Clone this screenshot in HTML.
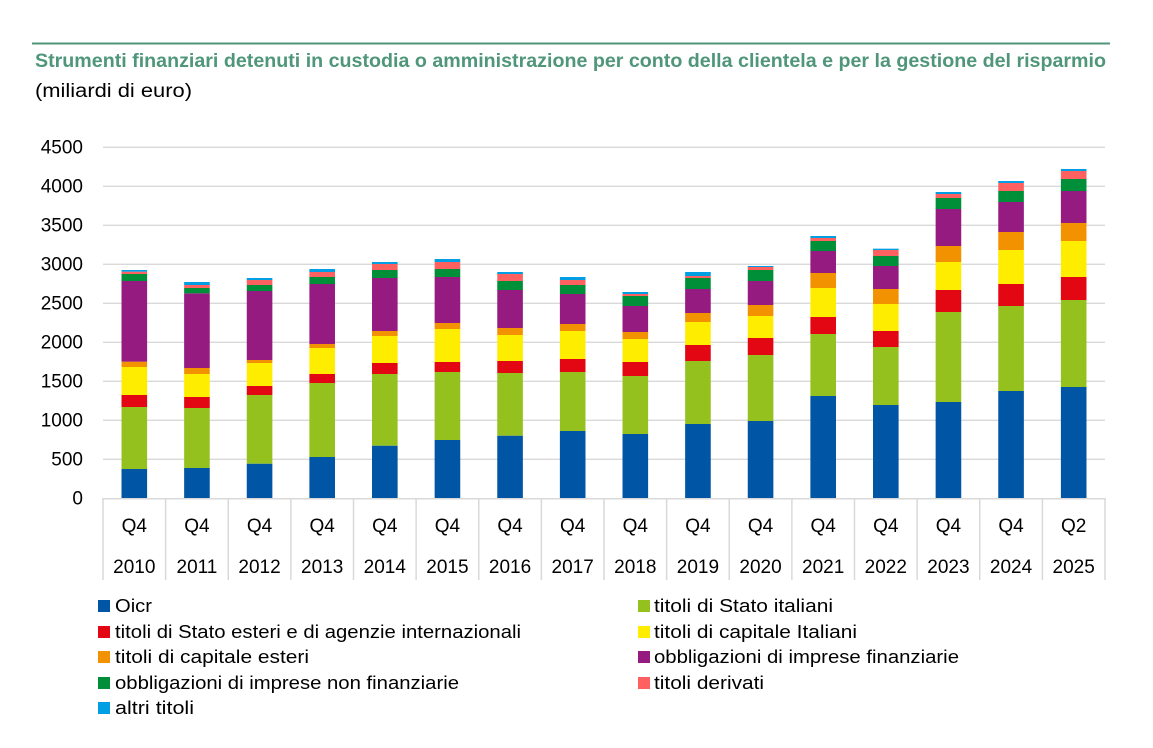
<!DOCTYPE html>
<html><head><meta charset="utf-8"><style>
body{margin:0;background:#fff;}
svg{display:block;font-family:"Liberation Sans",sans-serif;}
</style></head><body>
<svg id="s" width="1153" height="748" xmlns="http://www.w3.org/2000/svg">
<rect width="1153" height="748" fill="#fff"/>
<line x1="32" y1="43.5" x2="1110" y2="43.5" stroke="#4f967a" stroke-width="2"/>
<text x="35" y="67" font-size="19" font-weight="bold" fill="#4f967a" textLength="1071" lengthAdjust="spacingAndGlyphs">Strumenti finanziari detenuti in custodia o amministrazione per conto della clientela e per la gestione del risparmio</text>
<text x="35" y="97" font-size="19" fill="#000" textLength="157" lengthAdjust="spacingAndGlyphs">(miliardi di euro)</text>
<g id="grid"></g>
<g id="bars"></g>
<g id="axis"></g>
<g font-size="18" fill="#000">
<rect x="98" y="600" width="12" height="12" fill="#0055a4"/><text x="115" y="612" textLength="37" lengthAdjust="spacingAndGlyphs">Oicr</text>
<rect x="98" y="626" width="12" height="12" fill="#e30613"/><text x="115" y="638" textLength="406" lengthAdjust="spacingAndGlyphs">titoli di Stato esteri e di agenzie internazionali</text>
<rect x="98" y="651" width="12" height="12" fill="#f39200"/><text x="115" y="663" textLength="194" lengthAdjust="spacingAndGlyphs">titoli di capitale esteri</text>
<rect x="98" y="677" width="12" height="12" fill="#008f39"/><text x="115" y="689" textLength="344" lengthAdjust="spacingAndGlyphs">obbligazioni di imprese non finanziarie</text>
<rect x="98" y="702" width="12" height="12" fill="#009fe3"/><text x="115" y="714" textLength="79" lengthAdjust="spacingAndGlyphs">altri titoli</text>
<rect x="638" y="600" width="12" height="12" fill="#95c11f"/><text x="654" y="612" textLength="179" lengthAdjust="spacingAndGlyphs">titoli di Stato italiani</text>
<rect x="638" y="626" width="12" height="12" fill="#ffed00"/><text x="654" y="638" textLength="203" lengthAdjust="spacingAndGlyphs">titoli di capitale Italiani</text>
<rect x="638" y="651" width="12" height="12" fill="#951b81"/><text x="654" y="663" textLength="305" lengthAdjust="spacingAndGlyphs">obbligazioni di imprese finanziarie</text>
<rect x="638" y="677" width="12" height="12" fill="#ff6060"/><text x="654" y="689" textLength="110" lengthAdjust="spacingAndGlyphs">titoli derivati</text>
</g>
</svg>
<script>
var NS="http://www.w3.org/2000/svg";
function el(p,t,a,txt){var e=document.createElementNS(NS,t);for(var k in a)e.setAttribute(k,a[k]);if(txt!=null)e.textContent=txt;document.getElementById(p).appendChild(e);}
for(var i=0;i<=9;i++){var y=498.3-i*39;
 if(i>0)el("grid","line",{x1:103,x2:1105,y1:y,y2:y,stroke:"#d9d9d9","stroke-width":1.3});
 el("grid","text",{x:83,y:y+6,"font-size":19,"text-anchor":"end",fill:"#000"},String(i*500));}
var cols=["#0055a4","#95c11f","#e30613","#ffed00","#f39200","#951b81","#008f39","#ff6060","#009fe3"];
var B=[[987,801,765,681,665,423,402,395,390],[984,804,771,702,684,460,444,435,426],[971,765,738,669,660,453,435,420,414],[951,729,702,624,612,432,411,396,387],[917,702,669,588,573,414,390,372,366],[900,696,666,567,549,411,387,366,357],[887,699,663,585,564,450,423,402,396],[873,696,657,573,552,462,435,420,411],
[882,708,666,597,576,498,468,462,456],[852,663,615,546,519,447,414,408,396],[843,645,594,528,495,423,390,381,378],[768,582,531,444,399,333,303,294,288],[795,621,573,492,447,378,348,330,326],[786,516,450,366,318,207,174,162,156],[753,498,432,330,276,186,153,129,123],[741,480,411,303,249,153,117,93,87]];
var cw=(1105-103)/16;
var years=["2010","2011","2012","2013","2014","2015","2016","2017","2018","2019","2020","2021","2022","2023","2024","2025"];
for(var b=0;b<16;b++){var cx=103+cw*(b+0.5);var prev=1075;
 for(var s=0;s<9;s++){var t=B[b][s];var y0=140+t/3,y1=140+prev/3;
  el("bars","rect",{x:cx-12.8,y:y0,width:25.6,height:Math.max(0,y1-y0),fill:cols[s]});prev=t;}
 el("axis","text",{x:cx,y:532,"font-size":19,"text-anchor":"middle",fill:"#000"},b==15?"Q2":"Q4");
 el("axis","text",{x:cx,y:573,"font-size":19,"text-anchor":"middle",fill:"#000"},years[b]);}
el("axis","line",{x1:103,x2:1105,y1:498.8,y2:498.8,stroke:"#d9d9d9","stroke-width":1.5});
for(var k=0;k<=16;k++){var x=103+cw*k;el("axis","line",{x1:x,x2:x,y1:498,y2:580,stroke:"#d9d9d9","stroke-width":1.5});}
</script>
</body></html>
